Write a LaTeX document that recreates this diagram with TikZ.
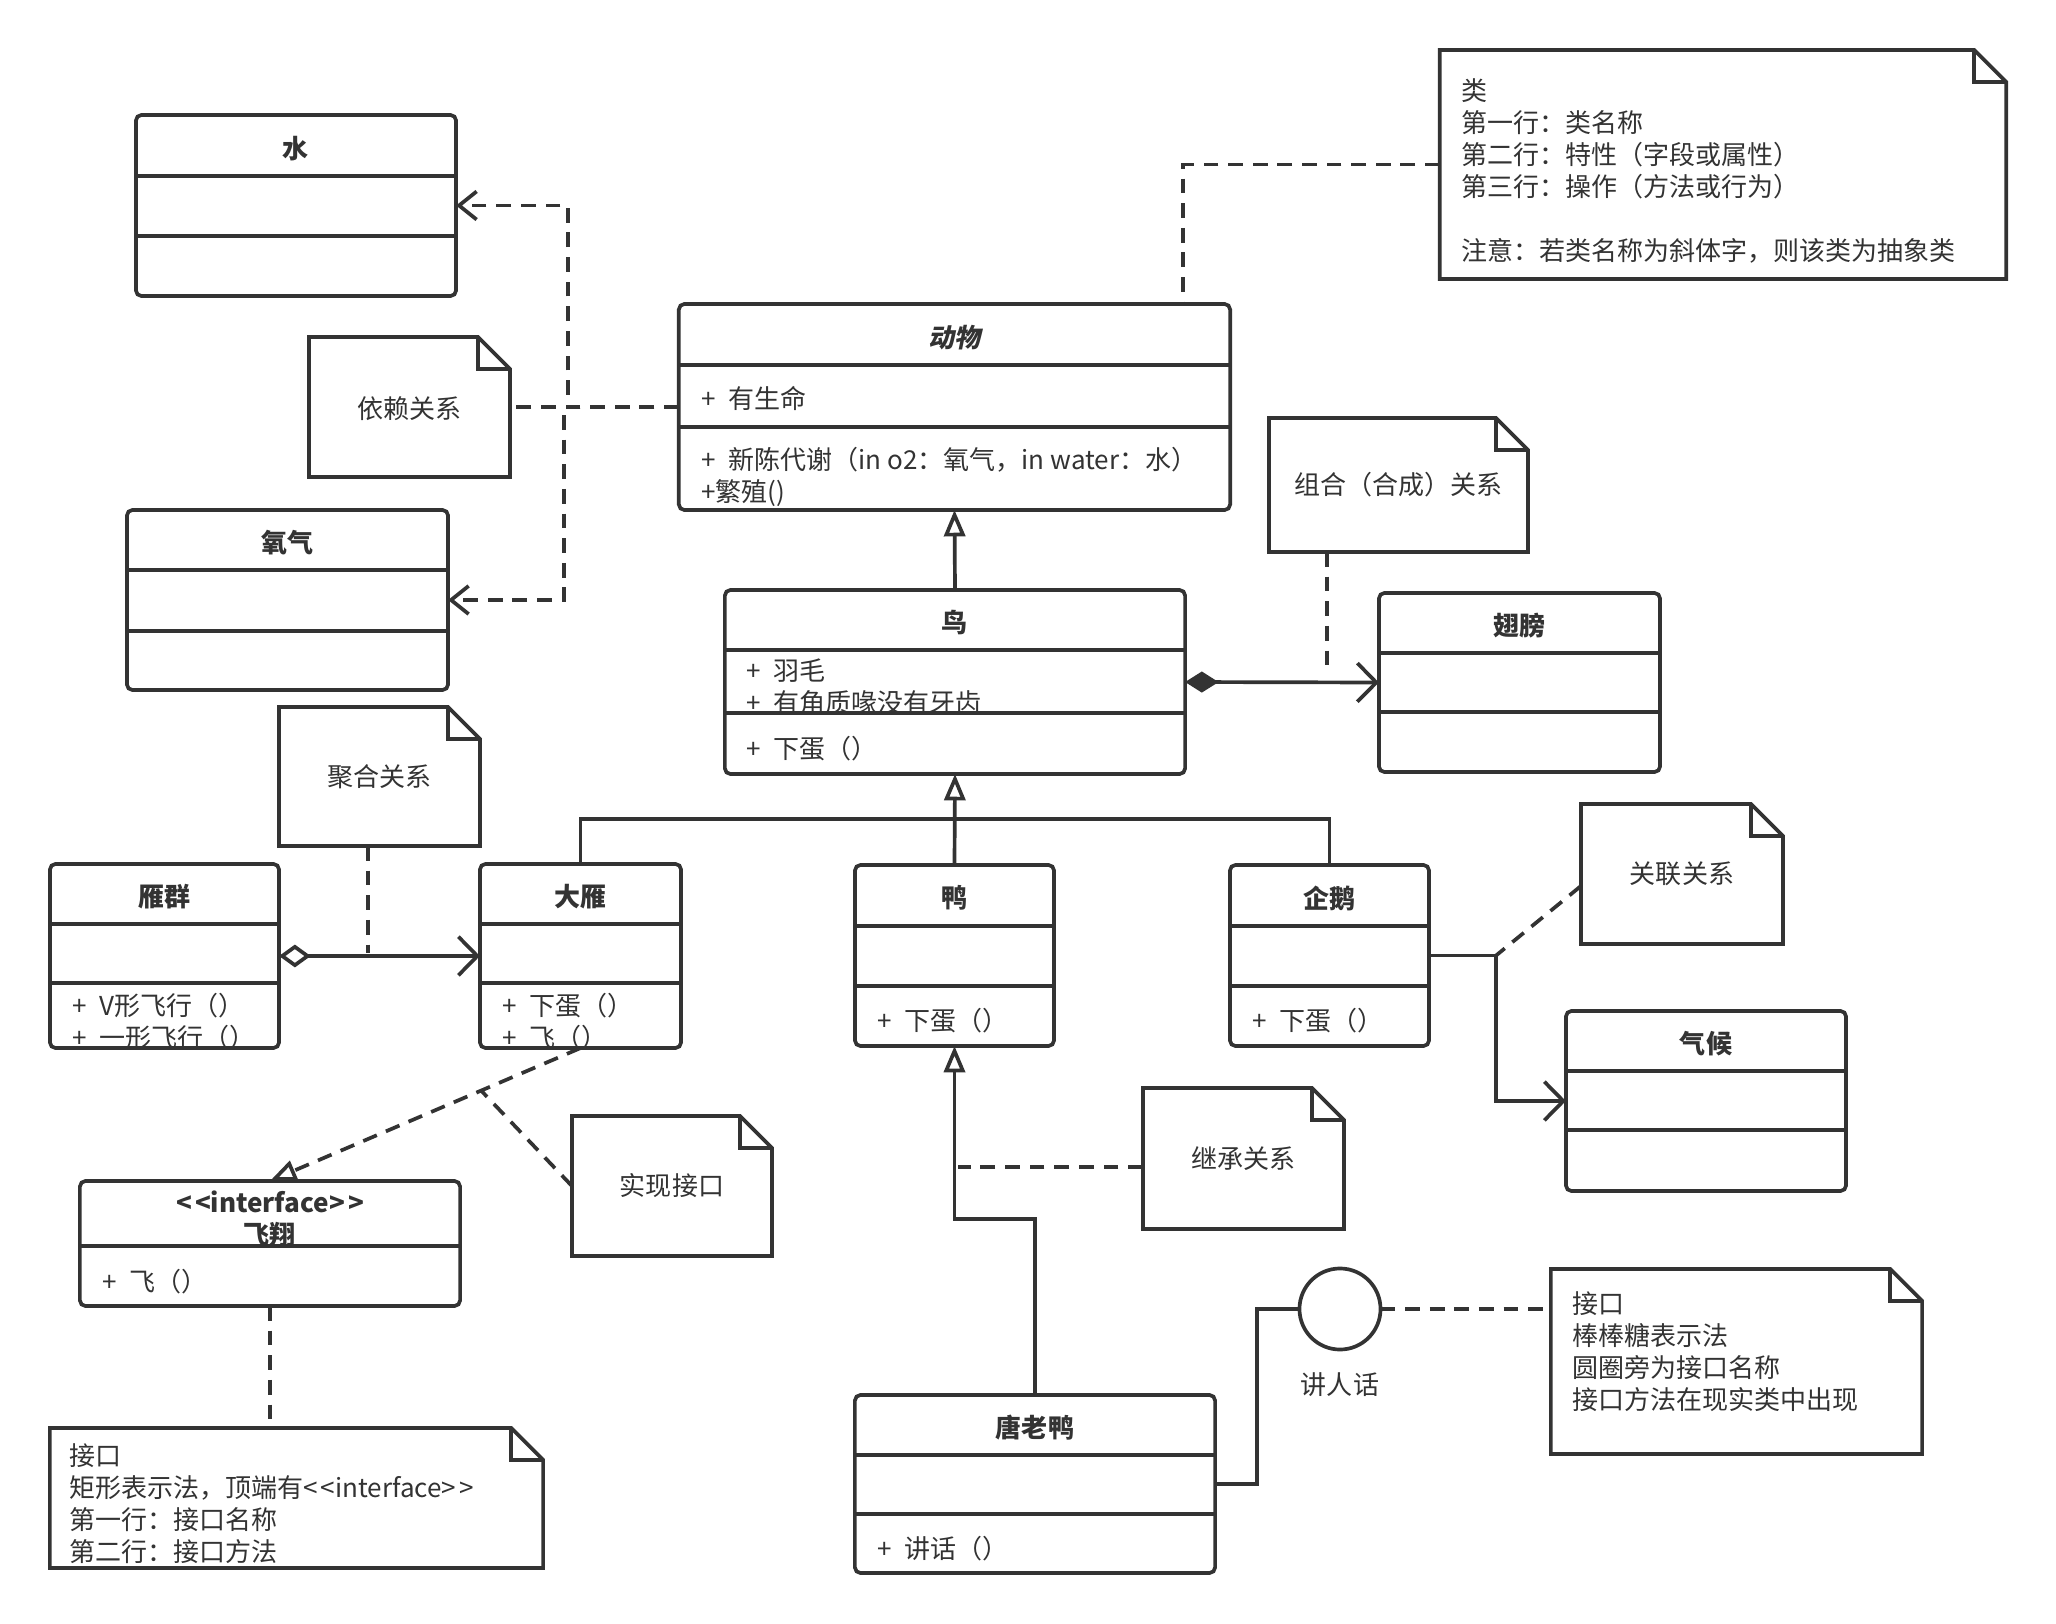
\documentclass[tikz,border=0pt]{standalone}
\usepackage{fontspec}
\setmainfont{Noto Sans CJK SC}
\newfontfamily\slantfont{Noto Sans CJK SC}[UprightFeatures={FakeSlant=0.2}, BoldFeatures={FakeSlant=0.2}]
\usepackage{tikz}
\usetikzlibrary{arrows.meta}

\definecolor{linecol}{HTML}{333333}

\newcommand{\notefold}[1]{%
  \draw[umlline] (#1.north west) -- ([xshift=-0.32cm]#1.north east)
    -- ([yshift=-0.32cm]#1.north east) -- (#1.south east) -- (#1.south west) -- cycle;
  \draw[umlline] ([xshift=-0.32cm]#1.north east) |- ([yshift=-0.32cm]#1.north east);
}
\newcommand{\stereo}{<\kern0.9pt<interface>\kern0.9pt>}

\begin{document}
\begin{tikzpicture}[x=0.01cm, y=-0.01cm,
  every node/.style={font=\fontsize{7.4}{9.1}\selectfont, text=linecol, inner sep=0pt, outer sep=0pt},
  umlline/.style={draw=linecol, line width=1.05pt},
  dashline/.style={umlline, dash pattern=on 4.2pt off 2.8pt},
  classbox/.style={umlline, fill=white, rounded corners=1.6pt},
  notebox/.style={fill=white},
  classtitle/.style={font=\fontsize{7.4}{9.1}\selectfont\bfseries, align=center},
  member/.style={anchor=west, align=left},
  notetext/.style={anchor=west, align=left},
  inherit/.style={umlline, -{Triangle[open, fill=white, length=7.5pt, width=6pt]}},
  realize/.style={dashline, -{Triangle[open, fill=white, length=7.5pt, width=6pt]}},
  associate/.style={umlline, -{Straight Barb[length=5.4pt, width=11pt]}},
  aggregate/.style={umlline, {Diamond[open, fill=white, length=9pt, width=6.5pt]}-{Straight Barb[length=5.4pt, width=11pt]}},
  compose/.style={umlline, {Diamond[fill=linecol, length=9.5pt, width=6pt]}-{Straight Barb[length=5.4pt, width=11pt]}},
  depend/.style={dashline, -{Straight Barb[length=5pt, width=8pt]}}]
  \fill[white] (0,0) rectangle (2056,1624);
  \useasboundingbox (0,0) rectangle (2056,1624);

  \node (shui) at (296,205.5) [classbox, minimum width=3.20cm, minimum height=1.81cm] {};
  \node (dongwu) at (954.5,407) [classbox, minimum width=5.51cm, minimum height=2.06cm] {};
  \node (yangqi) at (287.5,600) [classbox, minimum width=3.21cm, minimum height=1.80cm] {};
  \node (niao) at (955,682) [classbox, minimum width=4.60cm, minimum height=1.84cm] {};
  \node (chibang) at (1519.5,682.5) [classbox, minimum width=2.81cm, minimum height=1.79cm] {};
  \node (yanqun) at (164.5,956) [classbox, minimum width=2.29cm, minimum height=1.84cm] {};
  \node (dayan) at (580.5,956) [classbox, minimum width=2.01cm, minimum height=1.84cm] {};
  \node (ya) at (954.5,955.5) [classbox, minimum width=1.99cm, minimum height=1.81cm] {};
  \node (qie) at (1329.5,955.5) [classbox, minimum width=1.99cm, minimum height=1.81cm] {};
  \node (qihou) at (1706,1101) [classbox, minimum width=2.80cm, minimum height=1.80cm] {};
  \node (tang) at (1035,1484) [classbox, minimum width=3.60cm, minimum height=1.78cm] {};
  \node (feixiang) at (270,1243.5) [classbox, minimum width=3.80cm, minimum height=1.25cm] {};

  \node (shuititle) at (296,149) [classtitle] {水};
  \node (dongwutitle) at (954.5,338) [classtitle] {\slantfont\bfseries 动物};
  \node (yangqititle) at (287.5,543) [classtitle] {氧气};
  \node (niaotitle) at (955,623) [classtitle] {鸟};
  \node (chibangtitle) at (1519.5,626) [classtitle] {翅膀};
  \node (yanquntitle) at (164.5,897) [classtitle] {雁群};
  \node (dayantitle) at (580.5,897) [classtitle] {大雁};
  \node (yatitle) at (954.5,898) [classtitle] {鸭};
  \node (qietitle) at (1329.5,898) [classtitle] {企鹅};
  \node (qihoutitle) at (1706,1044) [classtitle] {气候};
  \node (tangtitle) at (1035,1428) [classtitle] {唐老鸭};
  \node (feixiangtitle) at (270,1219) [classtitle] {\stereo\\飞翔};

  \node (dongwuattr) at (701,398) [member] {+\enspace 有生命};
  \node (dongwuops) at (701,477) [member] {+\enspace 新陈代谢（in o2：氧气，in water：水）\\+繁殖()};
  \node (niaoattr) at (746,687) [member] {+\enspace 羽毛\\+\enspace 有角质喙没有牙齿};
  \node (niaoops) at (746,749) [member] {+\enspace 下蛋（）};
  \node (yanqunops) at (72,1021.5) [member] {+\enspace V形飞行（）\\+\enspace 一形飞行（）};
  \node (dayanops) at (502,1021.5) [member] {+\enspace 下蛋（）\\+\enspace 飞（）};
  \node (yaops) at (877,1021) [member] {+\enspace 下蛋（）};
  \node (qieops) at (1252,1021) [member] {+\enspace 下蛋（）};
  \node (tangops) at (877,1549) [member] {+\enspace 讲话（）};
  \node (feixiangops) at (102,1282) [member] {+\enspace 飞（）};

  \draw[umlline] ([yshift=-0.61cm]shui.north west) -- ([yshift=-0.61cm]shui.north east);
  \draw[umlline] ([yshift=-1.21cm]shui.north west) -- ([yshift=-1.21cm]shui.north east);
  \draw[umlline] ([yshift=-0.61cm]dongwu.north west) -- ([yshift=-0.61cm]dongwu.north east);
  \draw[umlline] ([yshift=-1.23cm]dongwu.north west) -- ([yshift=-1.23cm]dongwu.north east);
  \draw[umlline] ([yshift=-0.60cm]yangqi.north west) -- ([yshift=-0.60cm]yangqi.north east);
  \draw[umlline] ([yshift=-1.21cm]yangqi.north west) -- ([yshift=-1.21cm]yangqi.north east);
  \draw[umlline] ([yshift=-0.60cm]niao.north west) -- ([yshift=-0.60cm]niao.north east);
  \draw[umlline] ([yshift=-1.23cm]niao.north west) -- ([yshift=-1.23cm]niao.north east);
  \draw[umlline] ([yshift=-0.60cm]chibang.north west) -- ([yshift=-0.60cm]chibang.north east);
  \draw[umlline] ([yshift=-1.19cm]chibang.north west) -- ([yshift=-1.19cm]chibang.north east);
  \draw[umlline] ([yshift=-0.60cm]yanqun.north west) -- ([yshift=-0.60cm]yanqun.north east);
  \draw[umlline] ([yshift=-1.19cm]yanqun.north west) -- ([yshift=-1.19cm]yanqun.north east);
  \draw[umlline] ([yshift=-0.60cm]dayan.north west) -- ([yshift=-0.60cm]dayan.north east);
  \draw[umlline] ([yshift=-1.19cm]dayan.north west) -- ([yshift=-1.19cm]dayan.north east);
  \draw[umlline] ([yshift=-0.61cm]ya.north west) -- ([yshift=-0.61cm]ya.north east);
  \draw[umlline] ([yshift=-1.21cm]ya.north west) -- ([yshift=-1.21cm]ya.north east);
  \draw[umlline] ([yshift=-0.61cm]qie.north west) -- ([yshift=-0.61cm]qie.north east);
  \draw[umlline] ([yshift=-1.21cm]qie.north west) -- ([yshift=-1.21cm]qie.north east);
  \draw[umlline] ([yshift=-0.60cm]qihou.north west) -- ([yshift=-0.60cm]qihou.north east);
  \draw[umlline] ([yshift=-1.19cm]qihou.north west) -- ([yshift=-1.19cm]qihou.north east);
  \draw[umlline] ([yshift=-0.60cm]tang.north west) -- ([yshift=-0.60cm]tang.north east);
  \draw[umlline] ([yshift=-1.19cm]tang.north west) -- ([yshift=-1.19cm]tang.north east);
  \draw[umlline] ([yshift=-0.65cm]feixiang.north west) -- ([yshift=-0.65cm]feixiang.north east);

  \node (leinote) at (1723,164.5) [notebox, minimum width=5.66cm, minimum height=2.29cm] {};
  \node (leitext) at (1461,170.5) [notetext] {类\\第一行：类名称\\第二行：特性（字段或属性）\\第三行：操作（方法或行为）\\[9.1pt]注意：若类名称为斜体字，则该类为抽象类};
  \node (yilainote) at (409.5,407) [notebox, minimum width=2.01cm, minimum height=1.40cm] {};
  \node (yilaitext) at (409.5,409) {依赖关系};
  \node (zuhenote) at (1398.5,485) [notebox, minimum width=2.59cm, minimum height=1.34cm] {组合（合成）关系};
  \node (juhenote) at (379.5,776.5) [notebox, minimum width=2.01cm, minimum height=1.39cm] {聚合关系};
  \node (guanliannote) at (1682,874) [notebox, minimum width=2.02cm, minimum height=1.40cm] {关联关系};
  \node (jichengnote) at (1243.5,1158.5) [notebox, minimum width=2.01cm, minimum height=1.41cm] {继承关系};
  \node (shixiannote) at (672,1186) [notebox, minimum width=2.00cm, minimum height=1.40cm] {实现接口};
  \node (lollinote) at (1736.5,1361.5) [notebox, minimum width=3.71cm, minimum height=1.85cm] {};
  \node (lollitext) at (1572,1351.5) [notetext] {接口\\棒棒糖表示法\\圆圈旁为接口名称\\接口方法在现实类中出现};
  \node (rectnote) at (296.5,1498) [notebox, minimum width=4.93cm, minimum height=1.40cm] {};
  \node (recttext) at (69,1503.5) [notetext] {接口\\矩形表示法，顶端有\stereo\\第一行：接口名称\\第二行：接口方法};
  \notefold{leinote}
  \notefold{yilainote}
  \notefold{zuhenote}
  \notefold{juhenote}
  \notefold{guanliannote}
  \notefold{jichengnote}
  \notefold{shixiannote}
  \notefold{lollinote}
  \notefold{rectnote}

  \node (jianghua) at (1340,1309) [shape=circle, umlline, fill=white, minimum size=0.81cm] {};
  \node (jianghualabel) at (1340,1385) {讲人话};

  \coordinate (zuhemark) at (1327,675);
  \coordinate (juhemark) at (368,953);
  \coordinate (treejoin) at (955,819);
  \coordinate (jichengmark) at (958,1167);

  \draw[dashline] (dongwu.west) -- (yilainote.east);
  \draw[depend] (dongwu.west) -- ++(-111,0) |- (shui.east);
  \draw[depend] (dongwu.west) -- ++(-115,0) |- (yangqi.east);
  \draw[dashline] (leinote.west) -| ([xshift=-0.47cm]dongwu.north east);
  \draw[inherit] (niao.north) -- (dongwu.south);
  \draw[compose] (niao.east) -- (chibang.west);
  \draw[dashline] (zuhenote.south -| zuhemark) -- (zuhemark);
  \draw[aggregate] (yanqun.east) -- (dayan.west);
  \draw[dashline] (juhenote.south -| juhemark) -- (juhemark);
  \draw[inherit] (ya.north) -- (niao.south);
  \draw[umlline] (dayan.north) |- (treejoin) -| (qie.north);
  \draw[associate] (qie.east) -- ++(67,0) coordinate (assocbend) |- (qihou.west);
  \draw[dashline] ([yshift=-0.12cm]guanliannote.west) -- (assocbend);
  \draw[inherit] (tang.north) -- ++(0,-176) -| (ya.south);
  \draw[dashline] (jichengnote.west |- jichengmark) -- (jichengmark);
  \draw[umlline] (tang.east) -- ++(42,0) |- (jianghua.west);
  \draw[dashline] (jianghua.east) -- (lollinote.west |- jianghua.east);
  \draw[realize] (dayan.south) -- coordinate[pos=0.32] (realizemark) (feixiang.north);
  \draw[dashline] (shixiannote.west) -- (realizemark);
  \draw[dashline] (feixiang.south) -- (feixiang.south |- rectnote.north);
\end{tikzpicture}
\end{document}
